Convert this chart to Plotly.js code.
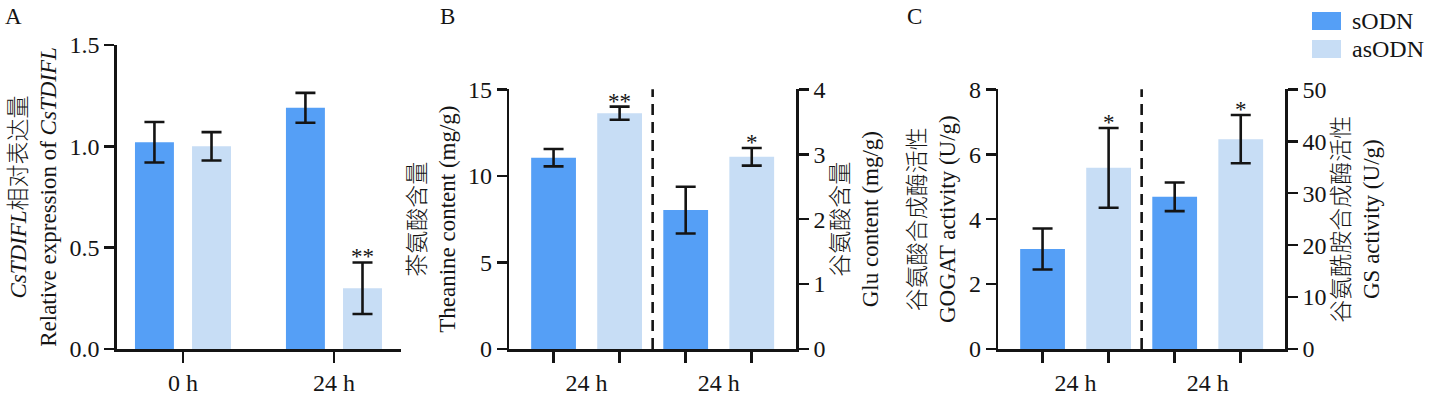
<!DOCTYPE html>
<html>
<head>
<meta charset="utf-8">
<script src="https://cdn.plot.ly/plotly-3.0.1.min.js"></script>
<style>
html,body{margin:0;padding:0;background:#fff;}
#chart{width:1431px;height:397px;}
</style>
</head>
<body>
<div id="chart"></div>
<script>
// ---------------- data ----------------
const seriesNames = ['sODN', 'asODN'];
const panelLetters = ['A', 'B', 'C'];

// Panel A: relative expression of CsTDIFL
const timeLabels = ['0 h', '24 h'];
const exprSODN = [1.02, 1.19];
const exprSODNErr = [0.10, 0.074];
const exprAsODN = [1.00, 0.30];
const exprAsODNErr = [0.07, 0.127];
const exprSig = ['', '**'];

// Panels B and C: one value per series [sODN, asODN]
const groupLabels = ['24 h', '24 h'];
const theanine = [11.05, 13.62];
const theanineErr = [0.50, 0.38];
const theanineSig = ['', '**'];
const glu = [2.14, 2.96];
const gluErr = [0.36, 0.135];
const gluSig = ['', '*'];
const gogat = [3.08, 5.58];
const gogatErr = [0.63, 1.23];
const gogatSig = ['', '*'];
const gs = [29.3, 40.4];
const gsErr = [2.75, 4.65];
const gsSig = ['', '*'];

// ---------------- style ----------------
const colors = ['#559ff6', '#c7ddf5'];
const ink = '#141414';
const FONT = '"Liberation Serif", "Times New Roman", "Noto Sans CJK SC", serif';
const W = 1431, H = 397;
const px = v => v / W;
const py = v => (H - v) / H;

// bar geometry
const aWidth = 0.258, aHalfGap = 0.189;          // panel A: category units
const bWidth = 0.339, bHalfGap = 0.25;           // panels B/C: group units
const aOffsets = [-aHalfGap - aWidth / 2, aHalfGap - aWidth / 2];
const bOffsets = [-bHalfGap - bWidth / 2, bHalfGap - bWidth / 2];

const traces = [];
const annotations = [];

function errStyle(arr) {
  return {type: 'data', array: arr, visible: true, color: ink, thickness: 2.6, width: 10};
}

// Panel A traces
const exprVals = [exprSODN, exprAsODN];
const exprErrs = [exprSODNErr, exprAsODNErr];
for (let s = 0; s < 2; s++) {
  traces.push({
    type: 'bar', name: seriesNames[s], x: timeLabels, y: exprVals[s],
    xaxis: 'x', yaxis: 'y', offset: aOffsets[s], width: aWidth,
    marker: {color: colors[s], line: {width: 0}},
    error_y: errStyle(exprErrs[s]), showlegend: false, hoverinfo: 'y'
  });
}
// significance for A (asODN)
exprSig.forEach((t, i) => {
  if (!t) return;
  annotations.push({
    xref: 'x', yref: 'y', x: i + aHalfGap, y: exprAsODN[i] + exprAsODNErr[i],
    text: t, showarrow: false, yanchor: 'bottom', yshift: -9,
    font: {family: FONT, size: 23, color: ink}
  });
});

// Panels B/C traces
const panels = [
  {xa: 'x2', measures: [
    {vals: theanine, errs: theanineErr, sig: theanineSig, ya: 'y2'},
    {vals: glu, errs: gluErr, sig: gluSig, ya: 'y3'}]},
  {xa: 'x3', measures: [
    {vals: gogat, errs: gogatErr, sig: gogatSig, ya: 'y4'},
    {vals: gs, errs: gsErr, sig: gsSig, ya: 'y5'}]}
];
panels.forEach(p => {
  p.measures.forEach((m, g) => {
    for (let s = 0; s < 2; s++) {
      traces.push({
        type: 'bar', name: seriesNames[s], x: [g], y: [m.vals[s]],
        xaxis: p.xa, yaxis: m.ya, offset: bOffsets[s], width: bWidth,
        marker: {color: colors[s], line: {width: 0}},
        error_y: errStyle([m.errs[s]]), showlegend: false, hoverinfo: 'y'
      });
      if (m.sig[s]) {
        annotations.push({
          xref: p.xa, yref: m.ya, x: g + (s === 0 ? -bHalfGap : bHalfGap),
          y: m.vals[s] + m.errs[s], text: m.sig[s], showarrow: false,
          yanchor: 'bottom', yshift: -9,
          font: {family: FONT, size: 23, color: ink}
        });
      }
    }
  });
});

// ---------------- axes ----------------
const tickFont = {family: FONT, size: 24, color: ink};
const titleFont = {family: FONT, size: 23, color: ink, weight: 300};
function yAxis(extra) {
  return Object.assign({
    showline: true, linewidth: 2.6, linecolor: ink, ticks: 'outside', ticklen: 10,
    tickwidth: 2.6, tickcolor: ink, showgrid: false, zeroline: false, tickfont: tickFont,
    fixedrange: true
  }, extra);
}
function xAxis(extra) {
  return Object.assign({
    showline: true, linewidth: 2.6, linecolor: ink, ticks: 'outside', ticklen: 11,
    tickwidth: 2.6, tickcolor: ink, showgrid: false, zeroline: false, tickfont: tickFont,
    fixedrange: true
  }, extra);
}
const minorBarTicks = {
  tickmode: 'array', tickvals: [-bHalfGap, bHalfGap, 1 - bHalfGap, 1 + bHalfGap],
  ticks: 'outside', ticklen: 11, tickwidth: 2.6, tickcolor: ink, showgrid: false
};
const yDomA = [py(349), py(45)];
const yDomBC = [py(349), py(89.3)];

const layout = {
  width: W, height: H,
  margin: {l: 0, r: 0, t: 0, b: 0},
  paper_bgcolor: '#fff', plot_bgcolor: 'rgba(0,0,0,0)',
  barmode: 'overlay',
  font: {family: FONT, color: ink},
  showlegend: false,
  xaxis: xAxis({domain: [px(117), px(401)], anchor: 'y', type: 'category',
    range: [-0.437, 1.444]}),
  yaxis: yAxis({domain: yDomA, anchor: 'x', range: [0, 1.5], tickvals: [0, 0.5, 1, 1.5],
    tickformat: '.1f',
    title: {text: '<i>CsTDIFL</i>相对表达量<br>Relative expression of <i>CsTDIFL</i>',
      font: titleFont, standoff: 7}}),
  xaxis2: xAxis({domain: [px(509.3), px(796)], anchor: 'y2', range: [-0.585, 1.585],
    tickvals: [0, 1], ticktext: groupLabels, tickcolor: 'rgba(0,0,0,0)', minor: minorBarTicks}),
  yaxis2: yAxis({domain: yDomBC, anchor: 'x2', range: [0, 15], tickvals: [0, 5, 10, 15],
    title: {text: '茶氨酸含量<br>Theanine content (mg/g)', font: titleFont, standoff: 6}}),
  yaxis3: yAxis({anchor: 'x2', overlaying: 'y2', side: 'right', range: [0, 4],
    tickvals: [0, 1, 2, 3, 4],
    title: {text: '谷氨酸含量<br>Glu content (mg/g)', font: titleFont, standoff: 8}}),
  xaxis3: xAxis({domain: [px(998.3), px(1285)], anchor: 'y4', range: [-0.585, 1.585],
    tickvals: [0, 1], ticktext: groupLabels, tickcolor: 'rgba(0,0,0,0)', minor: minorBarTicks}),
  yaxis4: yAxis({domain: yDomBC, anchor: 'x3', range: [0, 8], tickvals: [0, 2, 4, 6, 8],
    title: {text: '谷氨酸合成酶活性<br>GOGAT activity (U/g)', font: titleFont, standoff: 7}}),
  yaxis5: yAxis({anchor: 'x3', overlaying: 'y4', side: 'right', range: [0, 50],
    tickvals: [0, 10, 20, 30, 40, 50],
    title: {text: '谷氨酰胺合成酶活性<br>GS activity (U/g)', font: titleFont, standoff: 8}}),
  shapes: [
    {type: 'line', xref: 'x2', yref: 'y2 domain', x0: 0.5, x1: 0.5, y0: 0, y1: 1,
      line: {color: ink, width: 2.6, dash: '11px,7px'}},
    {type: 'line', xref: 'x3', yref: 'y4 domain', x0: 0.5, x1: 0.5, y0: 0, y1: 1,
      line: {color: ink, width: 2.6, dash: '11px,7px'}},
    // legend swatches
    {type: 'rect', xref: 'paper', yref: 'paper', x0: px(1312), x1: px(1341),
      y0: py(30), y1: py(12), line: {width: 0}, fillcolor: colors[0]},
    {type: 'rect', xref: 'paper', yref: 'paper', x0: px(1312), x1: px(1341),
      y0: py(58), y1: py(40), line: {width: 0}, fillcolor: colors[1]}
  ],
  annotations: annotations.concat([
    {xref: 'paper', yref: 'paper', x: px(1350), y: py(21), xanchor: 'left', yanchor: 'middle',
      text: seriesNames[0], showarrow: false, font: {family: FONT, size: 24, color: ink}},
    {xref: 'paper', yref: 'paper', x: px(1350), y: py(49), xanchor: 'left', yanchor: 'middle',
      text: seriesNames[1], showarrow: false, font: {family: FONT, size: 24, color: ink}},
    {xref: 'paper', yref: 'paper', x: px(3), y: py(16), xanchor: 'left', yanchor: 'middle',
      text: panelLetters[0], showarrow: false, font: {family: FONT, size: 23, color: ink}},
    {xref: 'paper', yref: 'paper', x: px(438), y: py(16), xanchor: 'left', yanchor: 'middle',
      text: panelLetters[1], showarrow: false, font: {family: FONT, size: 23, color: ink}},
    {xref: 'paper', yref: 'paper', x: px(905), y: py(16), xanchor: 'left', yanchor: 'middle',
      text: panelLetters[2], showarrow: false, font: {family: FONT, size: 23, color: ink}}
  ])
};

Plotly.newPlot('chart', traces, layout, {displayModeBar: false, staticPlot: true});
</script>
</body>
</html>
